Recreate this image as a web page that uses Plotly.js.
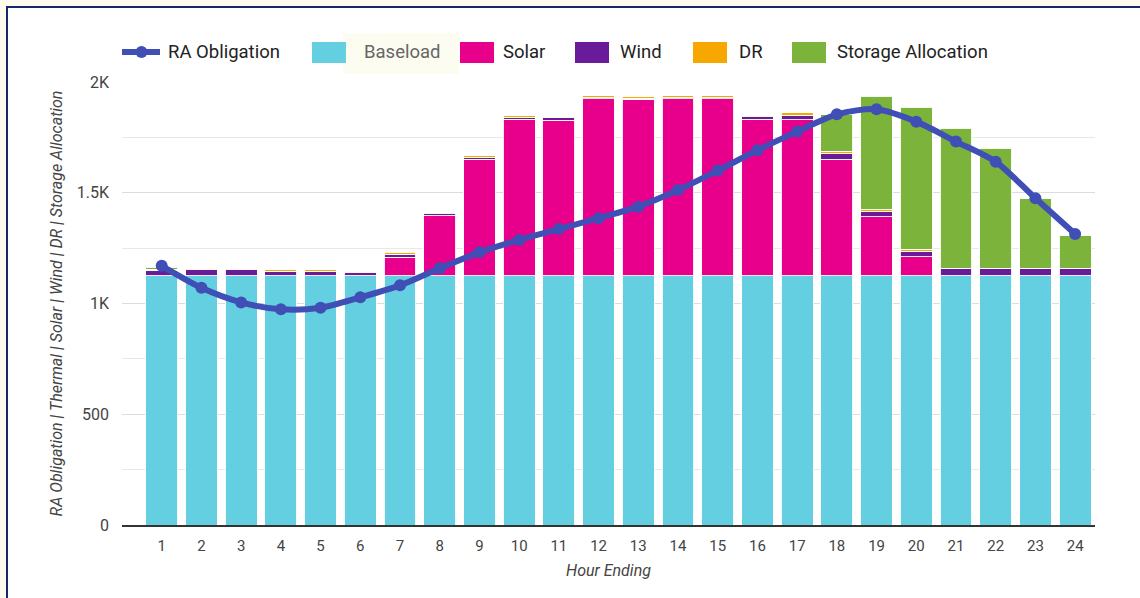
<!DOCTYPE html>
<html>
<head>
<meta charset="utf-8">
<script src="https://cdn.plot.ly/plotly-3.0.1.min.js"></script>
<style>
  html, body { margin: 0; padding: 0; width: 1140px; height: 598px; overflow: hidden; background: #fdfbee; }
  #frame { position: absolute; left: 6px; top: 6px; width: 1200px; height: 700px; background: #ffffff; border-left: 2px solid #14286b; border-top: 2px solid #14286b; }
  #chart { position: absolute; left: 0; top: 0; width: 1140px; height: 598px; }
</style>
</head>
<body>
<div id="frame"></div>
<div id="chart"></div>
<script>
// Hourly resource adequacy stack (MW) by hour ending
const hours = ["1","2","3","4","5","6","7","8","9","10","11","12","13","14","15","16","17","18","19","20","21","22","23","24"];
const baseload = [1125,1125,1125,1125,1125,1125,1125,1125,1125,1125,1125,1125,1125,1125,1125,1125,1125,1125,1125,1125,1125,1125,1125,1125];
const solar    = [0,0,0,0,0,0,83,271,526,707,703,800,798,800,800,706,705,527,267,86,0,0,0,0];
const wind     = [25,27,27,20,20,13,15,10,10,10,10,3,3,3,3,12,20,25,22,25,32,32,32,32];
const dr       = [5,8,8,8,8,6,6,6,8,8,8,10,8,10,10,8,12,10,10,10,3,3,3,3];
const storage  = [8,0,0,0,0,0,5,0,0,0,0,0,0,0,0,0,0,165,512,640,631,541,312,146];
const raObligation = [1170,1071,1005,974,981,1028,1082,1159,1231,1287,1336,1385,1437,1512,1600,1692,1776,1854,1877,1821,1731,1640,1475,1314];

const yTickVals = [0, 500, 1000, 1500, 2000];
const yTickText = ["0", "500", "1K", "1.5K", "2K"];

const names = ["RA Obligation", "Baseload", "Solar", "Wind", "DR", "Storage Allocation"];
const colors = {
  line: "#3f4fb5",
  baseload: "#63cfe0",
  solar: "#e8008c",
  wind: "#6a1b9a",
  dr: "#f6a800",
  storage: "#7cb33a"
};

const barLine = { color: "rgba(255,255,255,0.9)", width: 1 };
function barTrace(name, values, color) {
  return { type: "bar", name: name, x: hours, y: values, showlegend: false,
           marker: { color: color, line: barLine }, hoverinfo: "x+y+name" };
}

const traces = [
  barTrace(names[1], baseload, colors.baseload),
  barTrace(names[2], solar, colors.solar),
  barTrace(names[3], wind, colors.wind),
  barTrace(names[4], dr, colors.dr),
  barTrace(names[5], storage, colors.storage),
  { type: "scatter", mode: "lines+markers", name: names[0], x: hours, y: raObligation, showlegend: false,
    line: { color: colors.line, width: 6, shape: "spline", smoothing: 0.8 },
    marker: { color: colors.line, size: 12 } }
];

// plot area in pixels
const L = 122, R = 1095, T = 82, B = 525;
const W = 1140, H = 598;
const px = x => (x - L) / (R - L);
const py = y => (B - y) / (B - T);

// custom legend row
const shapes = [];
const annotations = [];
const legendY = 52;
const legendFont = 18.5;
// highlight behind the Baseload entry
shapes.push({ type: "rect", xref: "paper", yref: "paper", layer: "below",
  x0: px(343), x1: px(459), y0: py(33), y1: py(74),
  fillcolor: "#fdfcf1", line: { width: 0 } });
// line swatch
shapes.push({ type: "line", xref: "paper", yref: "paper", x0: px(122), x1: px(160), y0: py(legendY), y1: py(legendY),
  line: { color: colors.line, width: 6 } });
shapes.push({ type: "circle", xref: "paper", yref: "paper", x0: px(135.5), x1: px(147.5), y0: py(46), y1: py(58),
  fillcolor: colors.line, line: { width: 0 } });
annotations.push({ xref: "paper", yref: "paper", x: px(166), y: py(legendY), xanchor: "left", yanchor: "middle",
  text: names[0], showarrow: false, font: { family: "Roboto", size: legendFont, color: "#222" } });

const boxItems = [
  { name: names[1], color: colors.baseload, sx: 312, tx: 362, tc: "#666" },
  { name: names[2], color: colors.solar,    sx: 460, tx: 501, tc: "#222" },
  { name: names[3], color: colors.wind,     sx: 575, tx: 618, tc: "#222" },
  { name: names[4], color: colors.dr,       sx: 693, tx: 737, tc: "#222" },
  { name: names[5], color: colors.storage,  sx: 792, tx: 835, tc: "#222" }
];
boxItems.forEach(it => {
  shapes.push({ type: "rect", xref: "paper", yref: "paper", x0: px(it.sx), x1: px(it.sx + 34), y0: py(42), y1: py(63),
    fillcolor: it.color, line: { width: 0 } });
  annotations.push({ xref: "paper", yref: "paper", x: px(it.tx), y: py(legendY), xanchor: "left", yanchor: "middle",
    text: it.name, showarrow: false, font: { family: "Roboto", size: legendFont, color: it.tc } });
});

const layout = {
  width: W, height: H,
  margin: { l: L, r: W - R, t: T, b: H - B },
  paper_bgcolor: "rgba(0,0,0,0)",
  plot_bgcolor: "rgba(0,0,0,0)",
  barmode: "stack",
  bargap: 0.2,
  showlegend: false,
  font: { family: "Roboto", color: "#444" },
  xaxis: {
    type: "category",
    range: [-1, 23.5],
    tickfont: { family: "Roboto", size: 15, color: "#444" },
    showgrid: false,
    showline: true, linecolor: "#333", linewidth: 2,
    ticks: "", ticklabelstandoff: 6,
    title: { text: "Hour Ending", font: { family: "Roboto", size: 16, color: "#444", style: "italic" }, standoff: 11 }
  },
  yaxis: {
    range: [0, 2000],
    tickvals: yTickVals, ticktext: yTickText,
    tickfont: { family: "Roboto", size: 16, color: "#444" },
    gridcolor: "#dcdcdc", gridwidth: 1,
    zeroline: false, showline: false,
    ticks: "", ticklabelstandoff: 12,
    minor: { dtick: 250, showgrid: true, gridcolor: "#e8e8e8", gridwidth: 1 },
    title: { text: "RA Obligation | Thermal | Solar | Wind | DR | Storage Allocation",
             font: { family: "Roboto", size: 16, color: "#444", style: "italic" }, standoff: 10 }
  },
  shapes: shapes,
  annotations: annotations
};

Plotly.newPlot("chart", traces, layout, { displayModeBar: false, staticPlot: true });
</script>
</body>
</html>
